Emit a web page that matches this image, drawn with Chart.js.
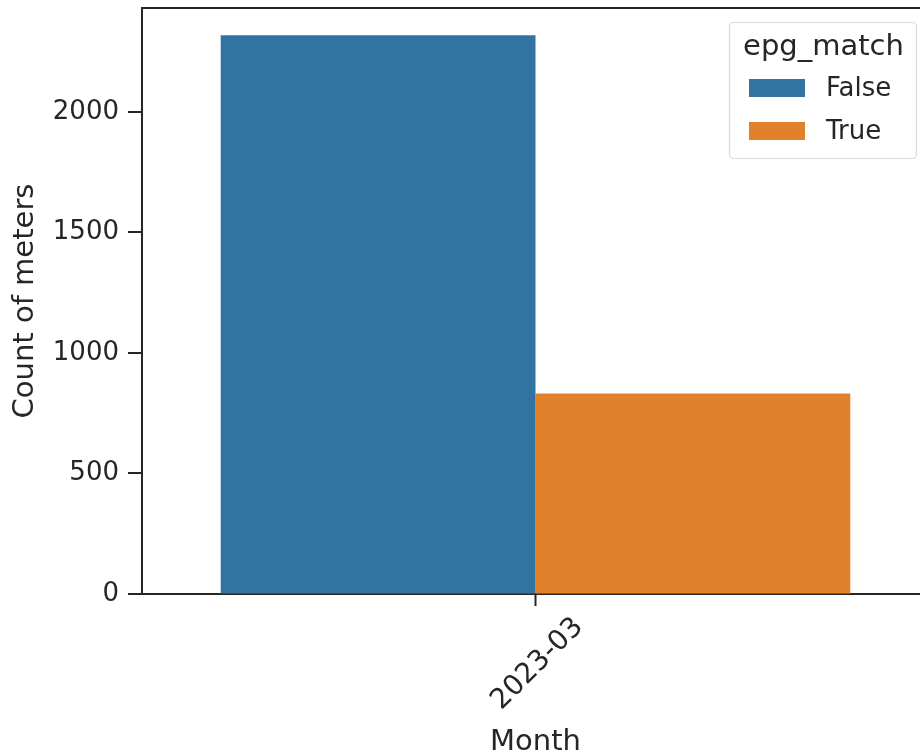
<!DOCTYPE html>
<html>
<head>
<meta charset="utf-8">
<script src="https://cdn.jsdelivr.net/npm/chart.js@4/dist/chart.umd.min.js"></script>
<style>
  html, body { margin: 0; padding: 0; overflow: hidden; background: #ffffff; }
  #wrap { position: relative; width: 940px; height: 751px; }
</style>
</head>
<body>
<div id="wrap"><canvas id="c" width="940" height="751"></canvas></div>
<script>
// Monthly meter counts split by whether the EPG matched
const months = ['2023-03'];
const seriesNames = ['False', 'True'];
const countFalse = [2318];
const countTrue = [832];
const seriesColors = ['#3274a1', '#e1812c'];
const yTicks = [0, 500, 1000, 1500, 2000];
const yMax = 2431;

const FONT = "'DejaVu Sans', sans-serif";
const INK = '#262626';
const TICK_LEN = 13;

// Top spine of the axes box and outward tick marks on the value axis
const axesFrame = {
  id: 'axesFrame',
  afterDraw(chart) {
    const { ctx, chartArea } = chart;
    const ys = chart.scales.y;
    ctx.save();
    ctx.strokeStyle = INK;
    ctx.lineWidth = 2;
    ctx.beginPath();
    ctx.moveTo(chartArea.left - 1, chartArea.top);
    ctx.lineTo(chartArea.right, chartArea.top);
    ys.ticks.forEach(t => {
      const py = Math.round(ys.getPixelForValue(t.value));
      ctx.moveTo(chartArea.left - 1, py);
      ctx.lineTo(chartArea.left - 1 - TICK_LEN, py);
    });
    ctx.stroke();
    ctx.restore();
  }
};

// Category labels on the x axis, turned 45 degrees and centred under their tick
const centredXLabels = {
  id: 'centredXLabels',
  afterDraw(chart) {
    const { ctx } = chart;
    const xs = chart.scales.x;
    ctx.save();
    ctx.fillStyle = INK;
    ctx.font = '28px ' + FONT;
    ctx.textAlign = 'center';
    ctx.textBaseline = 'middle';
    xs.ticks.forEach((t, i) => {
      const px = xs.getPixelForTick(i);
      ctx.save();
      ctx.translate(px + 2, xs.top + 70);
      ctx.rotate(-Math.PI / 4);
      ctx.fillText(months[i], 0, 0);
      ctx.restore();
    });
    ctx.restore();
  }
};

// Boxed legend with a title, at the upper right of the plot
const boxLegend = {
  id: 'boxLegend',
  afterDraw(chart) {
    const { ctx } = chart;
    const x = 729, y = 22, w = 187, h = 136;
    ctx.save();
    ctx.fillStyle = 'rgba(255,255,255,0.8)';
    ctx.strokeStyle = '#d9d9d9';
    ctx.lineWidth = 1.2;
    ctx.beginPath();
    ctx.roundRect(x + 0.5, y + 0.5, w, h, 4);
    ctx.fill();
    ctx.stroke();
    ctx.fillStyle = INK;
    ctx.font = '29px ' + FONT;
    ctx.textBaseline = 'middle';
    ctx.textAlign = 'center';
    ctx.fillText('epg_match', x + w / 2 + 1, y + 25);
    ctx.textAlign = 'left';
    ctx.font = '26px ' + FONT;
    chart.data.datasets.forEach((ds, i) => {
      const ry = y + 66 + i * 43;
      ctx.fillStyle = ds.backgroundColor;
      ctx.fillRect(x + 20, ry - 9, 56, 18);
      ctx.fillStyle = INK;
      ctx.fillText(ds.label, x + 97, ry + 1);
    });
    ctx.restore();
  }
};

new Chart(document.getElementById('c'), {
  type: 'bar',
  data: {
    labels: months,
    datasets: [
      { label: seriesNames[0], data: countFalse, backgroundColor: seriesColors[0], borderWidth: 0 },
      { label: seriesNames[1], data: countTrue, backgroundColor: seriesColors[1], borderWidth: 0 }
    ]
  },
  options: {
    responsive: false,
    animation: false,
    layout: { padding: { left: 0, right: 11, top: 8, bottom: 0 } },
    datasets: { bar: { categoryPercentage: 0.8, barPercentage: 1.0 } },
    plugins: { legend: { display: false }, tooltip: { enabled: false } },
    scales: {
      x: {
        grid: { display: true, offset: false, drawOnChartArea: false, drawTicks: true, tickLength: 12, color: INK, tickWidth: 2 },
        border: { display: true, color: INK, width: 2 },
        ticks: { display: false },
        title: { display: true, text: 'Month', color: INK, font: { family: FONT, size: 29 }, padding: { top: 0, bottom: -9 } },
        afterFit(scale) { scale.height = 157; }
      },
      y: {
        min: 0,
        max: yMax,
        grid: { display: true, drawOnChartArea: false, drawTicks: true, tickLength: TICK_LEN, tickColor: 'rgba(0,0,0,0)' },
        border: { display: true, color: INK, width: 2 },
        ticks: { color: INK, font: { family: FONT, size: 26 }, padding: 10, autoSkip: false, callback: v => String(v) },
        afterBuildTicks(scale) { scale.ticks = yTicks.map(v => ({ value: v })); },
        title: { display: true, text: 'Count of meters', color: INK, font: { family: FONT, size: 29 }, padding: { top: 8, bottom: 0 } },
        afterFit(scale) {
          scale.width = 142;
          scale.paddingTop = 0;
          scale.paddingBottom = 0;
        }
      }
    }
  },
  plugins: [axesFrame, centredXLabels, boxLegend]
});
</script>
</body>
</html>
